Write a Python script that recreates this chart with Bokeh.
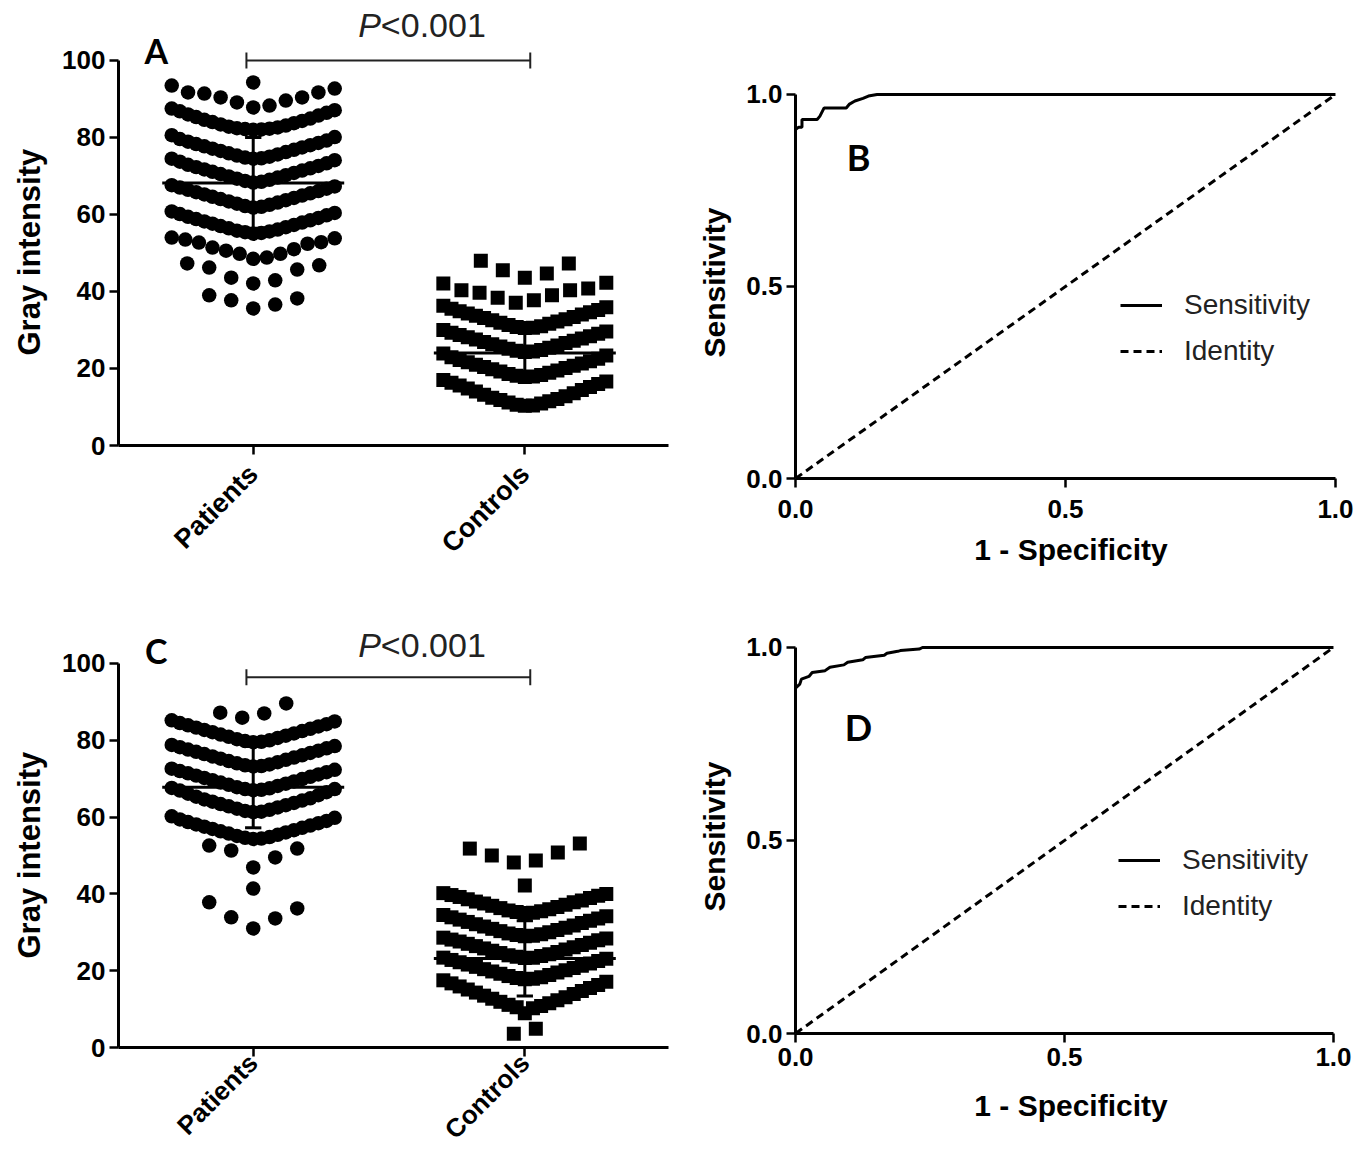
from math import pi
from bokeh.plotting import figure
from bokeh.layouts import column, row
from bokeh.models import FixedTicker, Legend, LegendItem, PrintfTickFormatter, Title
from bokeh.core.properties import value
from bokeh.embed import file_html
from bokeh.resources import INLINE

# ---------------- data ----------------
categories = ["Patients", "Controls"]

# Panel A: gray intensity, rows of the Prism scatter-dot layout
a_patients_rows = [
    [94.3],
    [87.8, 88.3, 89.1, 89.6, 90.4, 90.4, 91.4, 91.7, 91.7, 92.7, 93.5],
    [82.0, 82.1, 82.2, 82.3, 82.4, 82.6, 82.8, 83.1, 83.4, 83.7, 84.0, 84.3, 84.6, 84.9, 85.3, 85.7, 86.0, 86.4, 86.8, 87.1, 87.5],
    [74.5, 74.6, 74.8, 75.0, 75.3, 75.6, 75.9, 76.2, 76.5, 76.8, 77.1, 77.4, 77.7, 78.0, 78.3, 78.6, 78.9, 79.2, 79.6, 80.1, 80.6],
    [68.3, 68.5, 68.7, 69.0, 69.3, 69.6, 69.9, 70.2, 70.5, 70.8, 71.1, 71.4, 71.7, 72.0, 72.3, 72.6, 72.9, 73.3, 73.7, 74.1, 74.5],
    [61.8, 62.0, 62.2, 62.5, 62.8, 63.1, 63.4, 63.7, 64.0, 64.3, 64.6, 64.9, 65.2, 65.5, 65.8, 66.1, 66.4, 66.7, 67.0, 67.3, 67.6],
    [55.0, 55.2, 55.4, 55.6, 55.8, 56.1, 56.4, 56.7, 57.0, 57.3, 57.6, 57.9, 58.2, 58.5, 58.8, 59.1, 59.4, 59.8, 60.1, 60.4, 60.8],
    [48.5, 48.8, 49.8, 49.8, 50.6, 51.0, 51.4, 52.4, 52.7, 52.8, 53.5, 53.8, 54.0],
    [42.1, 42.9, 43.6, 45.7, 46.2, 46.8, 47.3],
    [35.6, 36.6, 37.7, 38.2, 39.0],
]
a_controls_rows = [
    [43.6, 44.7, 45.5, 47.3, 48.0],
    [37.1, 37.7, 38.4, 39.0, 39.7, 40.3, 40.3, 40.8, 42.1, 42.3],
    [30.5, 30.6, 30.8, 31.0, 31.3, 31.6, 31.9, 32.2, 32.5, 32.8, 33.1, 33.4, 33.7, 34.0, 34.3, 34.6, 34.9, 35.2, 35.5, 35.9, 36.3],
    [24.3, 24.4, 24.6, 24.8, 25.1, 25.4, 25.7, 26.0, 26.3, 26.6, 26.9, 27.2, 27.5, 27.8, 28.1, 28.4, 28.7, 29.0, 29.3, 29.6, 30.0],
    [17.8, 17.9, 18.1, 18.3, 18.6, 18.9, 19.2, 19.5, 19.8, 20.1, 20.4, 20.7, 21.0, 21.3, 21.6, 21.9, 22.2, 22.5, 22.9, 23.4, 23.9],
    [10.3, 10.4, 10.6, 10.9, 11.2, 11.5, 11.8, 12.1, 12.4, 12.8, 13.2, 13.6, 14.0, 14.4, 14.8, 15.2, 15.6, 16.0, 16.3, 16.6, 17.0],
]
a_means = [68.2, 24.0]
a_sds = [11.8, 7.0]

# Panel C
c_patients_rows = [
    [85.9, 87.0, 87.2, 89.6],
    [79.5, 79.6, 79.8, 80.0, 80.3, 80.6, 80.9, 81.2, 81.5, 81.8, 82.1, 82.4, 82.7, 83.0, 83.3, 83.6, 83.9, 84.2, 84.5, 84.9, 85.2],
    [73.2, 73.3, 73.5, 73.7, 74.0, 74.3, 74.6, 74.9, 75.2, 75.5, 75.8, 76.1, 76.4, 76.7, 77.0, 77.3, 77.6, 77.9, 78.2, 78.5, 78.8],
    [67.0, 67.1, 67.3, 67.5, 67.8, 68.1, 68.4, 68.7, 69.0, 69.3, 69.6, 69.9, 70.2, 70.5, 70.8, 71.1, 71.4, 71.7, 72.0, 72.3, 72.6],
    [61.3, 61.4, 61.6, 61.9, 62.2, 62.5, 62.8, 63.1, 63.4, 63.7, 64.0, 64.3, 64.6, 64.9, 65.3, 65.7, 66.1, 66.5, 66.9, 67.3, 67.6],
    [54.3, 54.4, 54.6, 54.8, 55.1, 55.4, 55.7, 56.0, 56.3, 56.6, 56.9, 57.2, 57.5, 57.8, 58.1, 58.4, 58.7, 59.0, 59.4, 59.8, 60.2],
    [46.9, 49.5, 51.3, 51.8, 52.6],
    [41.4],
    [31.0, 33.6, 33.9, 36.2, 37.8],
]
c_controls_rows = [
    [48.2, 48.7, 50.0, 50.8, 51.8, 53.1],
    [42.2],
    [35.0, 35.1, 35.3, 35.5, 35.7, 36.0, 36.3, 36.6, 36.9, 37.2, 37.5, 37.8, 38.0, 38.3, 38.6, 38.9, 39.2, 39.5, 39.7, 40.0, 40.2],
    [29.0, 29.1, 29.3, 29.5, 29.7, 30.0, 30.3, 30.6, 30.9, 31.2, 31.5, 31.8, 32.1, 32.4, 32.7, 33.0, 33.3, 33.6, 33.9, 34.2, 34.5],
    [23.3, 23.4, 23.6, 23.8, 24.0, 24.3, 24.6, 24.9, 25.2, 25.5, 25.8, 26.1, 26.4, 26.7, 27.0, 27.3, 27.6, 27.9, 28.1, 28.4, 28.6],
    [17.8, 17.9, 18.1, 18.3, 18.6, 18.9, 19.2, 19.5, 19.8, 20.1, 20.4, 20.7, 21.0, 21.3, 21.6, 21.9, 22.2, 22.5, 22.8, 23.1, 23.4],
    [8.9, 10.2, 10.5, 10.8, 11.1, 11.5, 11.9, 12.3, 12.7, 13.1, 13.5, 13.9, 14.3, 14.7, 15.1, 15.5, 15.9, 16.3, 16.7, 17.1, 17.5],
    [3.6, 4.9],
]
c_means = [67.8, 23.2]
c_sds = [10.6, 9.8]

# ROC curves (B and D)
b_fpr = [0.0, 0.0, 0.006, 0.012, 0.012, 0.040, 0.045, 0.053, 0.094, 0.100, 0.110, 0.125, 0.135, 0.151, 1.0]
b_tpr = [0.0, 0.909, 0.915, 0.915, 0.935, 0.935, 0.943, 0.965, 0.965, 0.975, 0.983, 0.990, 0.996, 1.0, 1.0]
d_fpr = [0.0, 0.0, 0.008, 0.011, 0.025, 0.031, 0.055, 0.064, 0.090, 0.097, 0.125, 0.130, 0.165, 0.170, 0.190, 0.195, 0.230, 0.236, 1.0]
d_tpr = [0.0, 0.895, 0.905, 0.918, 0.925, 0.935, 0.940, 0.949, 0.955, 0.962, 0.968, 0.974, 0.980, 0.985, 0.990, 0.992, 0.996, 1.0, 1.0]
identity_x = [0.0, 1.0]
identity_y = [0.0, 1.0]

p_label = "<0.001"
y_ticks = [0, 20, 40, 60, 80, 100]
roc_ticks = [0.0, 0.5, 1.0]

FONT = "Liberation Sans"


def swarm(rows, center, smax=0.081, wmax=0.60):
    xs, ys = [], []
    for r in rows:
        vals = sorted(r)
        n = len(vals)
        s = smax if n < 2 else min(smax, wmax / (n - 1))
        for i, v in enumerate(vals):
            if n % 2 == 1:
                k = (i + 1) // 2
                off = 0 if i == 0 else (k * s if i % 2 == 1 else -k * s)
            else:
                k = i // 2 + 0.5
                off = -k * s if i % 2 == 0 else k * s
            xs.append(center + off)
            ys.append(v)
    return xs, ys


def style_axes(p):
    for ax in (p.xaxis[0], p.yaxis[0]):
        ax.axis_line_width = 3
        ax.axis_line_color = "black"
        ax.major_tick_line_width = 2.5
        ax.major_tick_line_color = "black"
        ax.major_tick_out = 9
        ax.major_tick_in = 0
        ax.minor_tick_line_color = None
        ax.major_label_text_font = FONT
        ax.major_label_text_font_style = "bold"
        ax.major_label_text_color = "black"
        ax.axis_label_text_font = FONT
        ax.axis_label_text_font_style = "bold"
        ax.axis_label_text_color = "black"
    p.grid.visible = False
    p.outline_line_color = None
    p.background_fill_color = "white"
    p.border_fill_color = "white"


def dot_panel(pat_rows, con_rows, means, sds, letter, letter_y, bracket_y, p_y,
              y_end, height, top, bottom, xlab_standoff, xlab_size, title_offset):
    p = figure(width=677, height=height, x_range=(0.504, 2.529), y_range=(0, y_end),
               output_backend="svg", toolbar_location=None,
               min_border_left=117, min_border_right=9,
               min_border_top=top, min_border_bottom=bottom)
    xs, ys = swarm(pat_rows, 1)
    p.scatter(xs, ys, marker="circle", size=14.5, fill_color="black", line_color=None)
    xs, ys = swarm(con_rows, 2)
    p.scatter(xs, ys, marker="square", size=14, fill_color="black", line_color=None)
    cx = [1, 2]
    p.segment(x0=[c - 0.335 for c in cx], y0=means, x1=[c + 0.335 for c in cx], y1=means,
              line_width=3, line_color="black")
    lo = [m - s for m, s in zip(means, sds)]
    hi = [m + s for m, s in zip(means, sds)]
    p.segment(x0=cx, y0=lo, x1=cx, y1=hi, line_width=3, line_color="black")
    p.segment(x0=[c - 0.03 for c in cx] * 2, y0=lo + hi, x1=[c + 0.03 for c in cx] * 2,
              y1=lo + hi, line_width=3, line_color="black")
    # significance bracket
    bx0, bx1 = 0.975, 2.02
    p.segment(x0=[bx0, bx0, bx1], y0=[bracket_y, bracket_y - 2.1, bracket_y - 2.1],
              x1=[bx1, bx0, bx1], y1=[bracket_y, bracket_y + 2.1, bracket_y + 2.1],
              line_width=2, line_color="#222222")
    p.text(x=[1.47], y=[p_y], text=["P"], text_font=value(FONT), text_font_style="italic",
           text_font_size="34px", text_align="right", text_baseline="middle", text_color="#222222")
    p.text(x=[1.47], y=[p_y], text=[p_label], text_font=value(FONT), text_font_style="normal",
           text_font_size="34px", text_align="left", text_baseline="middle", text_color="#222222")
    p.text(x=[0.643], y=[letter_y], text=[letter], text_font=value("Lato"), text_font_style="bold",
           text_font_size="34px", text_align="center", text_baseline="middle", text_color="black")
    style_axes(p)
    p.xaxis.ticker = FixedTicker(ticks=[1, 2])
    p.xaxis.major_label_overrides = {1: categories[0], 2: categories[1]}
    p.xaxis.major_label_orientation = pi / 4
    p.xaxis.major_label_text_font_size = xlab_size
    p.xaxis.major_label_standoff = xlab_standoff
    p.yaxis.ticker = FixedTicker(ticks=y_ticks)
    p.yaxis.bounds = (0, 100)
    p.yaxis.major_label_text_font_size = "26px"
    p.yaxis.major_label_standoff = 4
    # y-axis title, placed along the 0-100 part of the axis (as in the original)
    p.add_layout(Title(text="Gray intensity", align="left", offset=title_offset,
                       vertical_align="top", standoff=22, text_font=FONT,
                       text_font_style="bold", text_font_size="31px", text_color="black"), "left")
    return p


def roc_panel(fpr, tpr, letter, letter_x, letter_y, x_end, y_end, height, top, bottom,
              legend_loc, xlab_standoff, xtitle_standoff):
    p = figure(width=686, height=height, x_range=(0, x_end), y_range=(0, y_end),
               output_backend="svg", toolbar_location=None,
               min_border_left=118, min_border_right=17,
               min_border_top=top, min_border_bottom=bottom)
    r_id = p.line(identity_x, identity_y, line_width=3, line_color="black", line_dash="8 5")
    r_sens = p.line(fpr, tpr, line_width=3, line_color="black")
    p.text(x=[letter_x], y=[letter_y], text=[letter], text_font=value("Lato"), text_font_style="bold",
           text_font_size="36px", text_align="center", text_baseline="middle", text_color="black")
    style_axes(p)
    for ax in (p.xaxis[0], p.yaxis[0]):
        ax.ticker = FixedTicker(ticks=roc_ticks)
        ax.bounds = (0, 1)
        ax.formatter = PrintfTickFormatter(format="%.1f")
        ax.major_label_text_font_size = "26px"
        ax.axis_label_text_font_size = "30px"
    p.xaxis.major_label_standoff = xlab_standoff
    p.yaxis.major_label_standoff = 4
    p.xaxis.axis_label = "1 - Specificity"
    p.xaxis.axis_label_standoff = xtitle_standoff
    p.yaxis.axis_label = "Sensitivity"
    p.yaxis.axis_label_standoff = 12
    legend = Legend(items=[LegendItem(label="Sensitivity", renderers=[r_sens]),
                           LegendItem(label="Identity", renderers=[r_id])],
                    location=legend_loc)
    legend.border_line_color = None
    legend.background_fill_alpha = 0
    legend.glyph_width = 42
    legend.glyph_height = 30
    legend.label_height = 30
    legend.spacing = 14
    legend.padding = 0
    legend.margin = 0
    legend.label_standoff = 22
    legend.label_text_font = FONT
    legend.label_text_font_size = "28px"
    legend.label_text_color = "#222222"
    p.add_layout(legend)
    return p


pA = dot_panel(a_patients_rows, a_controls_rows, a_means, a_sds, "A",
               letter_y=102.6, bracket_y=100.0, p_y=109.1, y_end=115.06,
               height=590, top=2, bottom=145, xlab_standoff=15, xlab_size="27px",
               title_offset=90)
pC = dot_panel(c_patients_rows, c_controls_rows, c_means, c_sds, "C",
               letter_y=103.4, bracket_y=96.4, p_y=104.7, y_end=115.1,
               height=568, top=15, bottom=111, xlab_standoff=2, xlab_size="26px",
               title_offset=89)
pB = roc_panel(b_fpr, b_tpr, "B", letter_x=0.117, letter_y=0.836, x_end=1.0204,
               y_end=1.0208, height=590, top=86, bottom=112,
               legend_loc=(325, 111), xlab_standoff=12, xtitle_standoff=12)
pD = roc_panel(d_fpr, d_tpr, "D", letter_x=0.117, letter_y=0.793, x_end=1.0242,
               y_end=1.0207, height=568, top=49, bottom=125,
               legend_loc=(323, 111), xlab_standoff=5, xtitle_standoff=20)

layout = row(column(pA, pC), column(pB, pD))
open("out.html", "w").write(file_html(layout, INLINE))
